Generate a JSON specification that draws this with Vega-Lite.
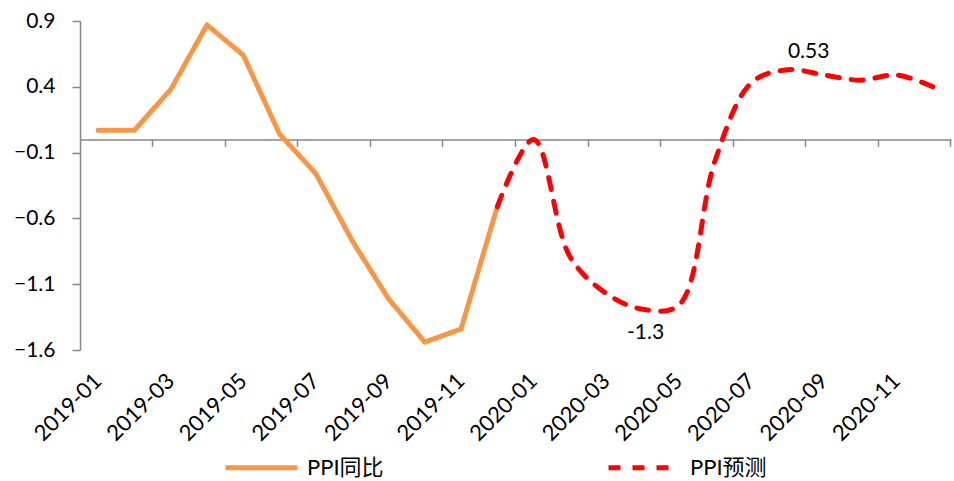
{
  "$schema": "https://vega.github.io/schema/vega-lite/v6.json",
  "autosize": {"type": "none"},
  "width": 871,
  "height": 329,
  "padding": {"left": 80, "top": 21, "right": 3, "bottom": 131},
  "background": "white",
  "config": {
    "view": {"stroke": null},
    "font": "Lato, 'Noto Sans CJK SC'",
    "axis": {"labelFont": "Lato, 'Noto Sans CJK SC'", "labelColor": "#000000", "labelFontSize": 21, "domainColor": "#868686", "tickColor": "#868686", "domainWidth": 1.5, "tickWidth": 1.5, "grid": false, "title": null}
  },
  "data": {
    "values": [
      {"month": "2019-01", "series": "PPI同比", "value": 0.07},
      {"month": "2019-02", "series": "PPI同比", "value": 0.07},
      {"month": "2019-03", "series": "PPI同比", "value": 0.38},
      {"month": "2019-04", "series": "PPI同比", "value": 0.87},
      {"month": "2019-05", "series": "PPI同比", "value": 0.64},
      {"month": "2019-06", "series": "PPI同比", "value": 0.04},
      {"month": "2019-07", "series": "PPI同比", "value": -0.26},
      {"month": "2019-08", "series": "PPI同比", "value": -0.77},
      {"month": "2019-09", "series": "PPI同比", "value": -1.21},
      {"month": "2019-10", "series": "PPI同比", "value": -1.54},
      {"month": "2019-11", "series": "PPI同比", "value": -1.44},
      {"month": "2019-12", "series": "PPI同比", "value": -0.51},
      {"month": "2019-12", "series": "PPI预测", "value": -0.51},
      {"month": "2020-01", "series": "PPI预测", "value": 0.0},
      {"month": "2020-02", "series": "PPI预测", "value": -0.89},
      {"month": "2020-03", "series": "PPI预测", "value": -1.17},
      {"month": "2020-04", "series": "PPI预测", "value": -1.29, "label": "-1.3"},
      {"month": "2020-05", "series": "PPI预测", "value": -1.26},
      {"month": "2020-06", "series": "PPI预测", "value": -0.16},
      {"month": "2020-07", "series": "PPI预测", "value": 0.43},
      {"month": "2020-08", "series": "PPI预测", "value": 0.53, "label": "0.53"},
      {"month": "2020-09", "series": "PPI预测", "value": 0.49},
      {"month": "2020-10", "series": "PPI预测", "value": 0.45},
      {"month": "2020-11", "series": "PPI预测", "value": 0.49},
      {"month": "2020-12", "series": "PPI预测", "value": 0.40}
    ]
  },
  "resolve": {"axis": {"x": "independent"}},
  "encoding": {
    "y": {
      "field": "value",
      "type": "quantitative",
      "scale": {"domain": [-1.6, 0.9], "nice": false, "zero": false},
      "axis": {"values": [-1.6, -1.1, -0.6, -0.1, 0.4, 0.9], "format": ".1f", "tickSize": 8, "labelPadding": 17}
    }
  },
  "layer": [
    {
      "transform": [{"filter": "datum.series == 'PPI同比'"}],
      "mark": {"type": "line", "strokeWidth": 5, "strokeCap": "round", "strokeJoin": "round"},
      "encoding": {
        "x": {
          "field": "month", "type": "ordinal", "sort": null,
          "scale": {"type": "band", "paddingInner": 0, "paddingOuter": 0, "domain": ["2019-01","2019-02","2019-03","2019-04","2019-05","2019-06","2019-07","2019-08","2019-09","2019-10","2019-11","2019-12","2020-01","2020-02","2020-03","2020-04","2020-05","2020-06","2020-07","2020-08","2020-09","2020-10","2020-11","2020-12"]},
          "axis": {"orient": "bottom", "values": ["2019-01","2019-03","2019-05","2019-07","2019-09","2019-11","2020-01","2020-03","2020-05","2020-07","2020-09","2020-11"], "labelAngle": -45, "labelAlign": "right", "labelBaseline": "middle", "labelPadding": 27, "labelFontSize": 22, "ticks": false, "domain": false}
        },
        "color": {"field": "series", "type": "nominal", "scale": {"domain": ["PPI同比", "PPI预测"], "range": ["#F79646", "#FF0000"]},
          "legend": {"title": null, "orient": "none", "legendX": 143, "legendY": 408, "direction": "horizontal", "symbolType": "stroke", "symbolSize": 5184, "symbolStrokeWidth": 5, "labelFontSize": 22, "labelColor": "#000000", "labelFont": "Lato, 'Noto Sans CJK SC'", "labelOffset": 7, "labelLimit": 0, "columnPadding": 214, "padding": 0}},
        "strokeDash": {"field": "series", "type": "nominal", "scale": {"domain": ["PPI同比", "PPI预测"], "range": [[1, 0], [12, 12]]},
          "legend": {"title": null, "orient": "none", "legendX": 143, "legendY": 408, "direction": "horizontal", "symbolType": "stroke", "symbolSize": 5184, "symbolStrokeWidth": 5, "labelFontSize": 22, "labelColor": "#000000", "labelFont": "Lato, 'Noto Sans CJK SC'", "labelOffset": 7, "labelLimit": 0, "columnPadding": 214, "padding": 0}}
      }
    },
    {
      "transform": [{"filter": "datum.series == 'PPI预测'"}],
      "mark": {"type": "line", "strokeWidth": 5, "strokeCap": "round", "strokeJoin": "round", "interpolate": "catmull-rom"},
      "encoding": {
        "x": {
          "field": "month", "type": "ordinal", "sort": null,
          "axis": {"orient": "bottom", "offset": -210.56, "values": ["2019-02","2019-04","2019-06","2019-08","2019-10","2019-12","2020-02","2020-04","2020-06","2020-08","2020-10","2020-12"], "bandPosition": 1, "labels": false, "tickSize": 7}
        },
        "color": {"field": "series", "type": "nominal"},
        "strokeDash": {"field": "series", "type": "nominal"}
      }
    },
    {
      "transform": [{"filter": "datum.label == '0.53'"}],
      "mark": {"type": "text", "fontSize": 21, "color": "#000000", "dx": 21, "dy": -18},
      "encoding": {
        "x": {"field": "month", "type": "ordinal", "sort": null, "axis": null},
        "text": {"field": "label"}
      }
    },
    {
      "transform": [{"filter": "datum.label == '-1.3'"}],
      "mark": {"type": "text", "fontSize": 21, "color": "#000000", "dx": 3, "dy": 24},
      "encoding": {
        "x": {"field": "month", "type": "ordinal", "sort": null, "axis": null},
        "text": {"field": "label"}
      }
    }
  ]
}
